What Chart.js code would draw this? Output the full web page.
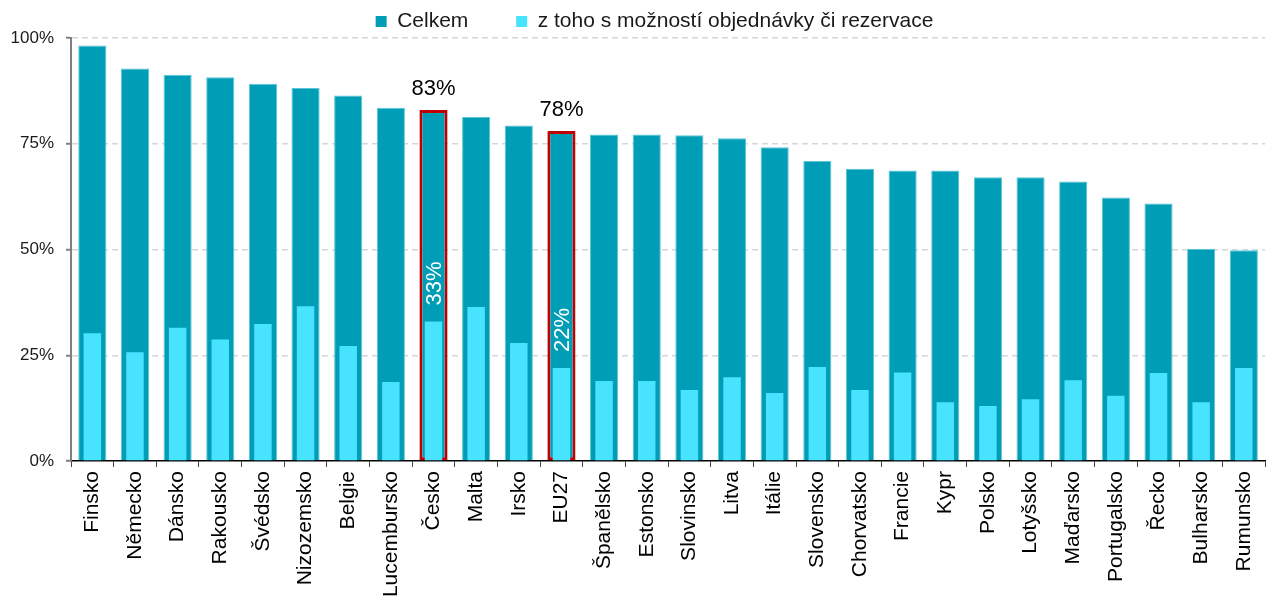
<!DOCTYPE html>
<html lang="cs">
<head>
    <meta charset="UTF-8">
    <script src="https://cdn.jsdelivr.net/npm/chart.js"></script>
    <title>Celkem vs. objednávky</title>
    <style>
        body { margin: 0; background: #fff; }
        #wrap { width: 1273px; height: 599px; }
    </style>
</head>
<body>
    <div id="wrap">
        <canvas id="myChart"></canvas>
    </div>

    <script>
        const countries = ['Finsko', 'Německo', 'Dánsko', 'Rakousko', 'Švédsko', 'Nizozemsko', 'Belgie',
            'Lucembursko', 'Česko', 'Malta', 'Irsko', 'EU27', 'Španělsko', 'Estonsko', 'Slovinsko', 'Litva',
            'Itálie', 'Slovensko', 'Chorvatsko', 'Francie', 'Kypr', 'Polsko', 'Lotyšsko', 'Maďarsko',
            'Portugalsko', 'Řecko', 'Bulharsko', 'Rumunsko'];
        const celkem = [98.2, 92.8, 91.3, 90.7, 89.2, 88.2, 86.4, 83.5, 83, 81.3, 79.3, 78, 77.2, 77.2, 77.0,
            76.3, 74.2, 70.9, 69.1, 68.7, 68.7, 67.1, 67.1, 66.1, 62.3, 60.9, 50.2, 49.8];
        const objednavky = [30.2, 25.7, 31.5, 28.7, 32.4, 36.6, 27.2, 18.7, 33, 36.4, 27.9, 22, 18.9, 18.9, 16.8,
            19.8, 16.1, 22.2, 16.8, 20.9, 13.9, 13.0, 14.6, 19.1, 15.4, 20.8, 13.9, 22.0];
        const highlighted = ['Česko', 'EU27'];
        const yTicks = [0, 25, 50, 75, 100];

        Chart.defaults.font.family = "'Liberation Sans', Arial, sans-serif";
        Chart.defaults.color = '#1a1a1a';

        const isHl = c => c.type === 'data' && highlighted.includes(countries[c.dataIndex]);

        // popisky nad zvýrazněnými sloupci
        const hlLabels = {
            id: 'hlLabels',
            afterDatasetsDraw(chart) {
                const ctx = chart.ctx;
                const outer = chart.getDatasetMeta(0).data;
                const inner = chart.getDatasetMeta(1).data;
                highlighted.forEach(name => {
                    const i = countries.indexOf(name);
                    ctx.save();
                    ctx.font = "22px 'Liberation Sans', Arial";
                    ctx.fillStyle = '#000';
                    ctx.textAlign = 'center';
                    ctx.textBaseline = 'alphabetic';
                    ctx.fillText(Math.round(celkem[i]) + '%', outer[i].x, outer[i].y - 15);
                    ctx.translate(inner[i].x, inner[i].y - 16);
                    ctx.rotate(-Math.PI / 2);
                    ctx.fillStyle = '#fff';
                    ctx.textAlign = 'left';
                    ctx.textBaseline = 'middle';
                    ctx.fillText(Math.round(objednavky[i]) + '%', 0, 1);
                    ctx.restore();
                });
            }
        };

        // posun legendy o kousek dolů a doprava jako v předloze
        const legendShift = {
            id: 'legendShift',
            afterLayout(chart) {
                const lg = chart.legend;
                lg.top += 4; lg.bottom += 4;
                lg.left += 18; lg.right += 18;
            }
        };

        const ctx = document.getElementById('myChart').getContext('2d');
        new Chart(ctx, {
            type: 'bar',
            data: {
                labels: countries,
                datasets: [{
                    label: 'Celkem',
                    data: celkem,
                    backgroundColor: '#009db6',
                    borderColor: c => isHl(c) ? '#c00000' : '#5cc6d6',
                    borderWidth: c => c.type !== 'data' ? 0 : (isHl(c) ? 3 : 1),
                    borderSkipped: c => isHl(c) ? false : 'bottom',
                    grouped: false,
                    barPercentage: 0.66,
                    categoryPercentage: 1,
                    order: 2
                }, {
                    label: 'z toho s možností objednávky či rezervace',
                    data: objednavky,
                    backgroundColor: '#47e3ff',
                    borderWidth: 0,
                    grouped: false,
                    barPercentage: 0.41,
                    categoryPercentage: 1,
                    order: 1
                }]
            },
            options: {
                responsive: true,
                maintainAspectRatio: false,
                animation: false,
                layout: { padding: 0 },
                scales: {
                    x: {
                        z: 1,
                        afterFit: s => { s.height = 138; },
                        grid: {
                            offset: true,
                            drawOnChartArea: false,
                            tickLength: 6,
                            tickColor: '#404040',
                            tickWidth: 1
                        },
                        border: { color: '#000', width: 1.5 },
                        ticks: {
                            autoSkip: false,
                            minRotation: 90,
                            maxRotation: 90,
                            padding: 4,
                            color: '#000',
                            font: { size: 21 }
                        }
                    },
                    y: {
                        min: 0,
                        max: 100,
                        afterFit: s => { s.width = 71; },
                        afterBuildTicks: s => { s.ticks = yTicks.map(v => ({ value: v })); },
                        grid: {
                            color: c => c.tick && c.tick.value === 0 ? 'rgba(0,0,0,0)' : '#d6d6d6',
                            lineWidth: 1.5,
                            tickLength: 5,
                            tickColor: '#808080',
                            tickWidth: 2,
                            tickBorderDash: []
                        },
                        border: { color: '#808080', width: 2, dash: [6, 4] },
                        ticks: {
                            padding: 12,
                            color: '#1a1a1a',
                            font: { size: 17 },
                            callback: v => v + '%'
                        }
                    }
                },
                plugins: {
                    tooltip: { enabled: false },
                    legend: {
                        display: true,
                        position: 'top',
                        labels: {
                            boxWidth: 11,
                            boxHeight: 11,
                            padding: 7,
                            color: '#1a1a1a',
                            font: { size: 21 },
                            sort: (a, b) => a.datasetIndex - b.datasetIndex,
                            generateLabels: chart => {
                                const items = Chart.defaults.plugins.legend.labels.generateLabels(chart);
                                items.forEach(it => {
                                    it.lineWidth = 0;
                                    it.strokeStyle = it.fillStyle;
                                    if (it.datasetIndex === 0) it.text = it.text + '\u00a0'.repeat(7);
                                });
                                return items;
                            }
                        }
                    }
                }
            },
            plugins: [hlLabels, legendShift]
        });
    </script>
</body>
</html>
